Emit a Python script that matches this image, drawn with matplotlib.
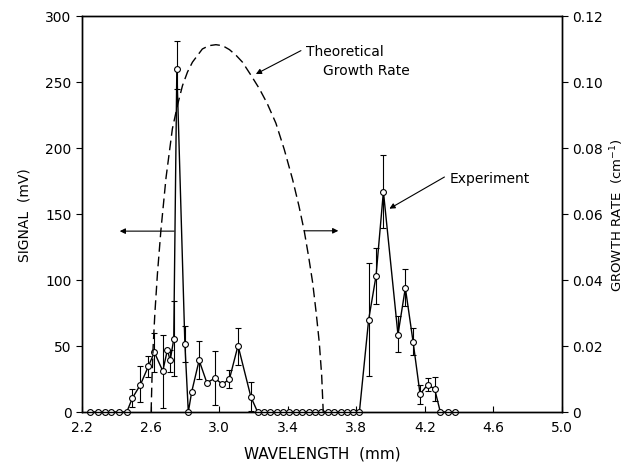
import numpy as np
import matplotlib
matplotlib.use("Agg")
import matplotlib.pyplot as plt

# measured signal (mV) vs wavelength (mm)
wavelength = [2.247, 2.295, 2.333, 2.367, 2.416, 2.461,
              2.494, 2.540, 2.587, 2.622, 2.671, 2.698, 2.714, 2.735, 2.753,
              2.800, 2.820, 2.840, 2.883, 2.928, 2.975, 3.019, 3.060, 3.110, 3.185,
              3.224, 3.262, 3.299, 3.336, 3.373, 3.410, 3.448, 3.485, 3.522,
              3.559, 3.596, 3.634, 3.671, 3.708, 3.745, 3.782, 3.818,
              3.872, 3.915, 3.958, 4.043, 4.086, 4.131, 4.172, 4.216, 4.257,
              4.290, 4.333, 4.378]
signal = [0, 0, 0, 0, 0, 0,
          10.6, 20.5, 34.6, 45.2, 31, 47, 39, 55, 260,
          51.5, 0, 15.4, 39.1, 22.2, 25.5, 21, 25, 50.3, 11.4,
          0, 0, 0, 0, 0, 0, 0, 0, 0,
          0, 0, 0, 0, 0, 0, 0, 0,
          70, 103, 167, 58.6, 94, 53.3, 13.4, 20.7, 17.4,
          0, 0, 0]
err_lo = [0, 0, 0, 0, 0, 0,
          7, 13, 8, 15, 28, 0, 9, 28, 15,
          14, 0, 0, 14, 0, 20, 0, 7, 15, 11,
          0, 0, 0, 0, 0, 0, 0, 0, 0,
          0, 0, 0, 0, 0, 0, 0, 0,
          43, 21, 28, 13, 14, 10, 7, 5, 9,
          0, 0, 0]
err_hi = [0, 0, 0, 0, 0, 0,
          7, 14, 8, 15, 27, 0, 8, 29, 21,
          14, 0, 0, 15, 0, 21, 0, 7, 13, 11,
          0, 0, 0, 0, 0, 0, 0, 0, 0,
          0, 0, 0, 0, 0, 0, 0, 0,
          43, 21, 28, 14, 14, 10, 7, 5, 9,
          0, 0, 0]

# theoretical growth rate (cm^-1)
theory_wl = [2.603, 2.608, 2.615, 2.625, 2.640, 2.660, 2.690, 2.727, 2.757, 2.786,
             2.815, 2.844, 2.902, 2.940, 2.981, 3.020, 3.060, 3.100, 3.136, 3.186,
             3.234, 3.280, 3.331, 3.380, 3.428, 3.465, 3.496, 3.522, 3.545, 3.566,
             3.584, 3.598, 3.607]
theory_rate = [0.0, 0.010, 0.020, 0.030, 0.042, 0.055, 0.071, 0.0858, 0.093, 0.0989,
               0.103, 0.106, 0.110, 0.111, 0.1113, 0.111, 0.1098, 0.108, 0.106, 0.102,
               0.098, 0.0935, 0.0875, 0.0795, 0.0705, 0.0625, 0.0549, 0.047, 0.0393, 0.030,
               0.021, 0.011, 0.0]

x_ticks = [2.2, 2.6, 3.0, 3.4, 3.8, 4.2, 4.6, 5.0]
sig_ticks = [0, 50, 100, 150, 200, 250, 300]
rate_ticks = [0, 0.02, 0.04, 0.06, 0.08, 0.10, 0.12]
rate_labels = ["0", "0.02", "0.04", "0.06", "0.08", "0.10", "0.12"]

plt.rcParams["font.family"] = "DejaVu Sans"

fig = plt.figure(figsize=(6.31, 4.64), dpi=100)
ax = fig.add_axes([0.130, 0.110, 0.7607, 0.8534])
ax2 = ax.twinx()

wl = np.array(wavelength)
sig = np.array(signal)
lo = np.array(err_lo)
hi = np.array(err_hi)
has_err = (lo > 0) | (hi > 0)

ax.plot(wl, sig, color="black", lw=1.0, zorder=3, clip_on=False)
ax.errorbar(wl[has_err], sig[has_err], yerr=[lo[has_err], hi[has_err]], fmt="none",
            ecolor="black", elinewidth=0.8, capsize=2.5, capthick=0.8, zorder=3)
ax.plot(wl, sig, ls="none", marker="o", ms=4.2, mfc="white", mec="black", mew=0.8,
        zorder=5, clip_on=False)

ax2.plot(theory_wl, theory_rate, color="black", lw=1.0, dashes=(7, 3.5))

ax.set_xlim(2.2, 5.0)
ax.set_ylim(0, 300)
ax2.set_ylim(0, 0.12)

ax.set_xticks(x_ticks)
ax.set_xticklabels([f"{t:.1f}" for t in x_ticks])
ax.set_yticks(sig_ticks)
ax2.set_yticks(rate_ticks)
ax2.set_yticklabels(rate_labels)

ax.tick_params(axis="x", direction="in", length=4, width=0.8, labelsize=10, pad=6)
ax.tick_params(axis="y", direction="out", length=4, width=0.8, labelsize=10)
ax2.tick_params(axis="y", direction="out", length=4, width=0.8, labelsize=10)

for a in (ax, ax2):
    for s in a.spines.values():
        s.set_linewidth(1.0)

ax.set_xlabel("WAVELENGTH  (mm)", fontsize=11, labelpad=8)
ax.set_ylabel("SIGNAL  (mV)", fontsize=10, labelpad=10)
ax2.set_ylabel("GROWTH RATE  (cm$^{-1}$)", fontsize=9.5, rotation=90, labelpad=4)

arrow = dict(arrowstyle="-|>", color="black", lw=0.8, mutation_scale=8,
             shrinkA=0, shrinkB=0)

# axis indicator arrows
ax.annotate("", xy=(2.42, 137), xytext=(2.737, 137), arrowprops=arrow)
ax2.annotate("", xy=(3.695, 0.0549), xytext=(3.496, 0.0549), arrowprops=arrow)

# labels
ax2.annotate("", xy=(3.214, 0.1024), xytext=(3.477, 0.1095), arrowprops=arrow)
ax2.text(3.505, 0.1095, "Theoretical", fontsize=10, va="center", ha="left")
ax2.text(3.605, 0.1035, "Growth Rate", fontsize=10, va="center", ha="left")

ax.annotate("", xy=(3.993, 154), xytext=(4.314, 178), arrowprops=arrow)
ax.text(4.343, 177, "Experiment", fontsize=10, va="center", ha="left")

fig.savefig("out.png", dpi=100)
